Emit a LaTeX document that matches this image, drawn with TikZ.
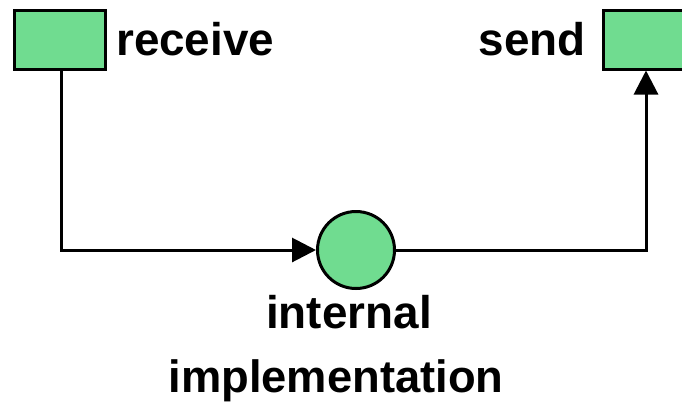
\documentclass[tikz,border=0pt]{standalone}
\usepackage{fontspec}
\setmainfont{Liberation Sans}
\usetikzlibrary{arrows.meta}
\definecolor{placegreen}{RGB}{112,220,144}
\tikzset{
  port/.style={draw=black, fill=placegreen, line width=3bp, rectangle,
    minimum width=90bp, minimum height=59bp, inner sep=0pt},
  place/.style={draw=black, fill=placegreen, line width=3bp, circle,
    minimum size=77bp, inner sep=0pt},
  flow/.style={line width=3bp, -{Triangle[length=24bp,width=24bp]}},
  lbl/.style={font=\bfseries\fontsize{46}{50}\selectfont, inner sep=0pt}
}
\begin{document}
\begin{tikzpicture}[x=1bp, y=-1bp]
  \useasboundingbox (0,0) rectangle (682,404);
  \clip (0,0) rectangle (682,404);
  % ports and the internal place
  \node[port] (rcv) at (60,39.5) {};
  \node[port] (snd) at (648.5,39.5) {};
  \node[place] (imp) at (356,250) {};
  % labels
  \node[lbl, anchor=base west] (rcvlbl) at (116,55) {receive};
  \node[lbl, anchor=base east] (sndlbl) at (586,55) {send};
  \node[lbl, anchor=base] (intlbl) at (349,328) {internal};
  \node[lbl, anchor=base, font=\bfseries\fontsize{45.5}{50}\selectfont] (impllbl) at (336,392) {implementation};
  % connectors
  \coordinate (bendL) at (61,250);
  \coordinate (bendR) at (646,250);
  \draw[flow] (rcv.south -| bendL) -- (bendL) -- (imp.west);
  \draw[flow] (imp.east) -- (bendR) -- (bendR |- snd.south);
\end{tikzpicture}
\end{document}
